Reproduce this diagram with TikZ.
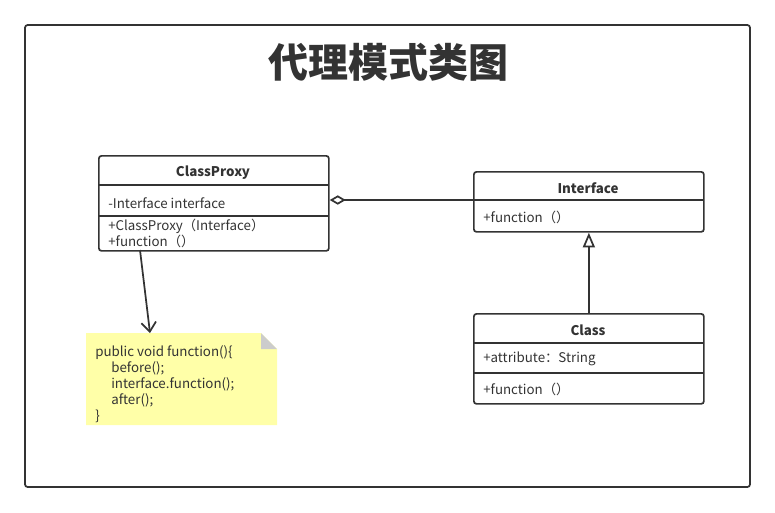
\documentclass[tikz,border=0pt]{standalone}
\usepackage{fontspec}
\setmainfont{Noto Sans CJK SC}
\usetikzlibrary{positioning,arrows.meta}
\definecolor{ink}{HTML}{333333}
\definecolor{notefill}{HTML}{FFFFA8}
\definecolor{foldgray}{HTML}{CCCCCC}

\begin{document}
\begin{tikzpicture}[x=0.75pt,y=-0.75pt]
        \tikzset{
            umlbox/.style={draw=ink, line width=1.3pt, rounded corners=2pt, anchor=north west, minimum width=172.5pt, inner sep=0pt},
            cname/.style={font=\bfseries\fontsize{10}{11}\selectfont, text=ink},
            member/.style={anchor=west, font=\fontsize{10}{11}\selectfont, text=ink, inner sep=0pt},
            sep/.style={draw=ink, line width=1.3pt},
            agg/.style={{Diamond[open,length=12pt,width=7pt]}-, draw=ink, line width=1.3pt},
            inherit/.style={-{Triangle[open,length=11pt,width=9pt]}, draw=ink, line width=1.3pt},
            dep/.style={-{Straight Barb[length=7pt,width=11pt]}, draw=ink, line width=1.3pt}
        }
        \useasboundingbox (0,0) rectangle (775,512);
        \draw[ink, line width=1.3pt, rounded corners=2pt] (25,25) rectangle (750,487);
        \node[font=\bfseries\fontsize{30}{30}\selectfont, text=ink] (title) at (388,62) {代理模式类图};
        % ClassProxy
        \node[umlbox, minimum height=71.25pt] (cp) at (98,155) {};
        \node[cname] (cpname) at (213,173) {ClassProxy};
        \draw[sep] (98,185) -- (328,185);
        \draw[sep] (98,216) -- (328,216);
        \node[member] (cpattr) at (108,203) {-Interface interface};
        \node[member] (cpctor) at (108,226) {+ClassProxy（Interface）};
        \node[member] (cpfunc) at (108,241) {+function（）};
        % Interface
        \node[umlbox, minimum height=45pt] (iface) at (473,171) {};
        \node[cname] (ifname) at (588,188) {Interface};
        \coordinate (ifsep) at (473,200);
        \draw[sep] (ifsep) -- (703,200);
        \node[member] (iffunc) at (483,217) {+function（）};
        % Class
        \node[umlbox, minimum height=67.5pt] (cls) at (473,313) {};
        \node[cname] (clsname) at (588,330) {Class};
        \draw[sep] (473,343) -- (703,343);
        \draw[sep] (473,373) -- (703,373);
        \node[member] (clsattr) at (483,359) {+attribute：String};
        \node[member] (clsfunc) at (483,389) {+function（）};
        % note
        \fill[notefill] (86,333) -- (261,333) -- (277,349) -- (277,425) -- (86,425) -- cycle;
        \fill[foldgray] (261,333) -- (261,349) -- (277,349) -- cycle;
        \node[anchor=north west, inner sep=0pt, minimum width=143.25pt, minimum height=69pt] (note) at (86,333) {};
        \node[anchor=north west, inner sep=0pt, align=left, text=ink, font=\fontsize{10}{12}\selectfont] (notetext) at (95,345)
            {public void function()\{\\
             \hspace*{12pt}before();\\
             \hspace*{12pt}interface.function();\\
             \hspace*{12pt}after();\\
             \}};
        % relations
        \coordinate (cpfoot) at (140,250);
        \coordinate (notetop) at (150,333);
        \draw[agg] (cp.east |- ifsep) -- (ifsep);
        \draw[inherit] (cls.north) -- (iface.south);
        \draw[dep] (cpfoot) -- (notetop);
    \end{tikzpicture}
\end{document}
